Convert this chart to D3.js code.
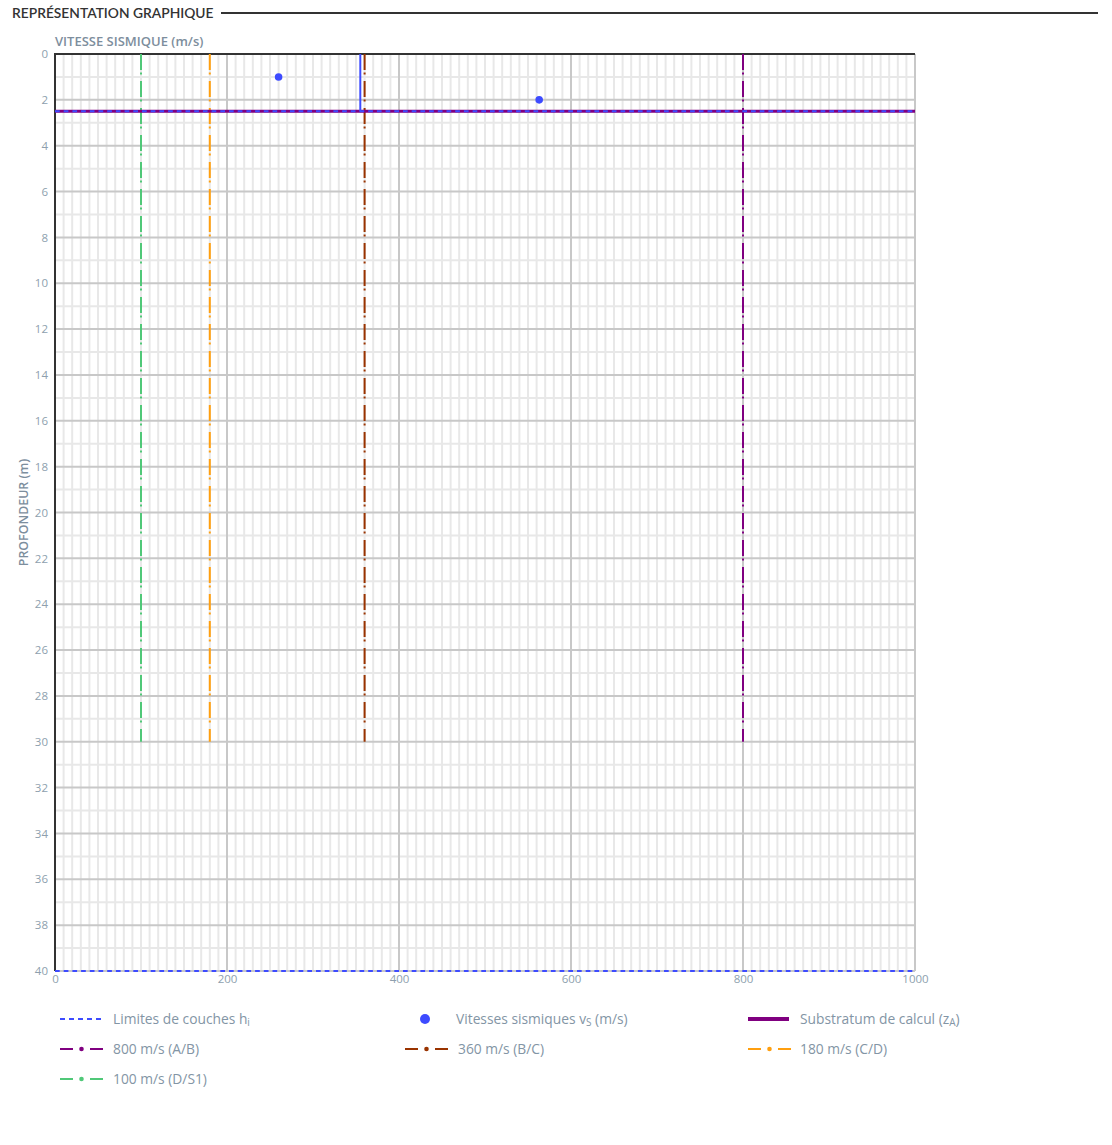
<!DOCTYPE html>
<html><head><meta charset="utf-8">
<script src="https://cdn.jsdelivr.net/npm/d3@7"></script>
<style>
body{margin:0;background:#fff;font-family:"Open Sans","Noto Sans",sans-serif;}
</style></head>
<body>
<svg id="chart" width="1112" height="1145"></svg>
<script>
// ---- data ----
const xDomain = [0, 1000];
const yDomain = [0, 40];
const xTickValues = [0, 200, 400, 600, 800, 1000];
const yTickValues = [0,2,4,6,8,10,12,14,16,18,20,22,24,26,28,30,32,34,36,38,40];
const layerLimits = [2.5, 40];            // Limites de couches h_i (m)
const vsValues = [260, 563];              // Vitesses sismiques v_s (m/s)
const vsDepths = [1, 2];                  // profondeur (m)
const profileVs = [355, 355];             // profil vertical v_s
const profileDepth = [0, 2.5];
const substratumDepth = 2.5;              // z_A
const thresholdValues = [800, 360, 180, 100];
const thresholdLabels = ["800 m/s (A/B)", "360 m/s (B/C)", "180 m/s (C/D)", "100 m/s (D/S1)"];
const thresholdColors = ["#800080", "#993300", "#ff9f0f", "#50c878"];
const thresholdDepthRange = [0, 30];

(function () {
// ---- layout ----
const svg = d3.select("#chart");
const pL = 55, pR = 915, pT = 54, pB = 971;
const x = d3.scaleLinear().domain(xDomain).range([pL, pR]);
const y = d3.scaleLinear().domain(yDomain).range([pT, pB]);
const BLUE = "#3d4bff";
const LABEL = "#8e9fae";
const FONT = "'Open Sans', sans-serif";

// title
svg.append("text").attr("x", 12).attr("y", 18)
  .attr("font-family", "Lato, 'Open Sans', sans-serif").attr("font-size", 13.8).attr("font-weight", 600)
  .attr("fill", "#333").text("REPRÉSENTATION GRAPHIQUE");
svg.append("line").attr("x1", 221).attr("x2", 1098).attr("y1", 13).attr("y2", 13)
  .attr("stroke", "#333").attr("stroke-width", 2);

// grid
const g = svg.append("g");
const minorX = d3.range(0, 1001, 10).filter(v => v % 200 !== 0);
const minorY = d3.range(0, 41, 1).filter(v => v % 2 !== 0);
g.selectAll(".mx").data(minorX).join("line")
  .attr("x1", d => x(d)).attr("x2", d => x(d)).attr("y1", pT).attr("y2", pB)
  .attr("stroke", "#e8e8e8").attr("stroke-width", 2);
g.selectAll(".my").data(minorY).join("line")
  .attr("y1", d => y(d)).attr("y2", d => y(d)).attr("x1", pL).attr("x2", pR)
  .attr("stroke", "#e8e8e8").attr("stroke-width", 2);
g.selectAll(".Mx").data(xTickValues).join("line")
  .attr("x1", d => x(d)).attr("x2", d => x(d)).attr("y1", pT).attr("y2", pB)
  .attr("stroke", "#c8c8c8").attr("stroke-width", 2);
g.selectAll(".My").data(yTickValues).join("line")
  .attr("y1", d => y(d)).attr("y2", d => y(d)).attr("x1", pL).attr("x2", pR)
  .attr("stroke", "#c8c8c8").attr("stroke-width", 2);

// axes lines
svg.append("line").attr("x1", pL - 1).attr("x2", pR).attr("y1", pT).attr("y2", pT)
  .attr("stroke", "#333").attr("stroke-width", 2);
svg.append("line").attr("x1", pL).attr("x2", pL).attr("y1", pT).attr("y2", pB)
  .attr("stroke", "#333").attr("stroke-width", 2);

// tick labels via d3 axes
const yAxis = d3.axisLeft(y).tickValues(yTickValues).tickSize(0).tickPadding(7).tickFormat(d3.format("d"));
const ya = svg.append("g").attr("transform", `translate(${pL},0)`).call(yAxis);
ya.select(".domain").remove();
ya.selectAll("text").attr("font-family", FONT).attr("font-size", 11.5).attr("fill", LABEL);
const xAxis = d3.axisBottom(x).tickValues(xTickValues).tickSize(0).tickPadding(4).tickFormat(d3.format("d"));
const xa = svg.append("g").attr("transform", `translate(0,${pB})`).call(xAxis);
xa.select(".domain").remove();
xa.selectAll("text").attr("font-family", FONT).attr("font-size", 11.5).attr("fill", LABEL);

// axis titles
svg.append("text").attr("x", 55).attr("y", 46)
  .attr("font-family", FONT).attr("font-size", 13).attr("font-weight", 600)
  .attr("fill", "#7d8e9d").text("VITESSE SISMIQUE (m/s)");
svg.append("text").attr("transform", `translate(28,${(pT + pB) / 2}) rotate(-90)`)
  .attr("text-anchor", "middle")
  .attr("font-family", FONT).attr("font-size", 12.4).attr("font-weight", 600)
  .attr("fill", "#7d8e9d").text("PROFONDEUR (m)");

// threshold lines
const DASHDOT = "16,2.5,2,6.5";
svg.selectAll(".thr").data(thresholdValues).join("line")
  .attr("x1", d => x(d)).attr("x2", d => x(d))
  .attr("y1", y(thresholdDepthRange[0])).attr("y2", y(thresholdDepthRange[1]))
  .attr("stroke", (d, i) => thresholdColors[i]).attr("stroke-width", 2)
  .attr("stroke-dasharray", DASHDOT);

// substratum
svg.append("line").attr("x1", x(xDomain[0])).attr("x2", x(xDomain[1]))
  .attr("y1", y(substratumDepth)).attr("y2", y(substratumDepth))
  .attr("stroke", "#800080").attr("stroke-width", 3);

// vs profile
const line = d3.line().x(d => x(d[0])).y(d => y(d[1]));
svg.append("path").datum(profileVs.map((v, i) => [v, profileDepth[i]]))
  .attr("d", line).attr("fill", "none").attr("stroke", BLUE).attr("stroke-width", 2);

// layer limits
svg.selectAll(".lim").data(layerLimits).join("line")
  .attr("x1", x(xDomain[0])).attr("x2", x(xDomain[1]))
  .attr("y1", d => y(d)).attr("y2", d => y(d))
  .attr("stroke", BLUE).attr("stroke-width", 2).attr("stroke-dasharray", "4.7,4");

// points
svg.selectAll(".pt").data(vsValues).join("circle")
  .attr("cx", d => x(d)).attr("cy", (d, i) => y(vsDepths[i])).attr("r", 3.8)
  .attr("fill", BLUE);

// legend
const lg = svg.append("g").attr("font-family", FONT).attr("font-size", 13.8).attr("fill", "#8395a5");
const colX = [60, 405, 748];
const rowY = [1019, 1049, 1079];
function legText(gx, gy, parts) {
  const t = lg.append("text").attr("x", gx).attr("y", gy + 5);
  parts.forEach(p => {
    if (p.sub) t.append("tspan").attr("font-size", 10).attr("dy", 2).text(p.t);
    else t.append("tspan").attr("dy", p.after ? -2 : 0).text(p.t);
  });
}
lg.append("line").attr("x1", colX[0]).attr("x2", colX[0] + 43).attr("y1", rowY[0]).attr("y2", rowY[0])
  .attr("stroke", BLUE).attr("stroke-width", 2).attr("stroke-dasharray", "5,4");
legText(113, rowY[0], [{t: "Limites de couches h"}, {t: "i", sub: true}]);
lg.append("circle").attr("cx", 425).attr("cy", rowY[0]).attr("r", 5).attr("fill", BLUE);
legText(456, rowY[0], [{t: "Vitesses sismiques v"}, {t: "S", sub: true}, {t: " (m/s)", after: true}]);
lg.append("line").attr("x1", colX[2]).attr("x2", colX[2] + 41).attr("y1", rowY[0]).attr("y2", rowY[0])
  .attr("stroke", "#800080").attr("stroke-width", 4);
legText(800, rowY[0], [{t: "Substratum de calcul (z"}, {t: "A", sub: true}, {t: ")", after: true}]);
const legPos = [[0, 1], [1, 1], [2, 1], [0, 2]];
thresholdValues.forEach((v, i) => {
  const cx = colX[legPos[i][0]], cy = rowY[legPos[i][1]];
  const c = thresholdColors[i];
  lg.append("line").attr("x1", cx).attr("x2", cx + 13).attr("y1", cy).attr("y2", cy).attr("stroke", c).attr("stroke-width", 2);
  lg.append("line").attr("x1", cx + 30).attr("x2", cx + 43).attr("y1", cy).attr("y2", cy).attr("stroke", c).attr("stroke-width", 2);
  lg.append("circle").attr("cx", cx + 21.5).attr("cy", cy).attr("r", 2.3).attr("fill", c);
  legText(cx + (legPos[i][0] === 2 ? 52 : 53), cy, [{t: thresholdLabels[i]}]);
});
})();
</script>
</body></html>
